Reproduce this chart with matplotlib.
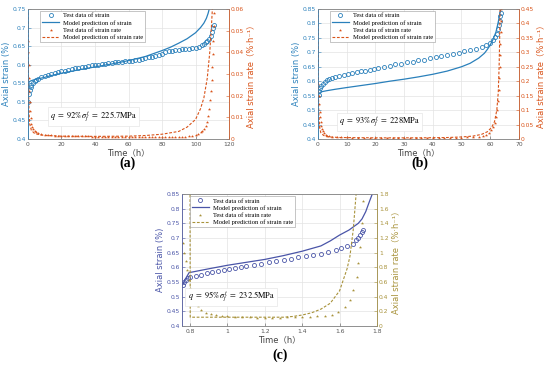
import matplotlib.pyplot as plt

plt.rcParams['font.family'] = ['DejaVu Sans', 'Noto Sans CJK SC']
plt.rcParams['mathtext.fontset'] = 'stix'

# ---------------- panel (a) ----------------
a_t_strain = [0.3, 0.6, 1, 1.5, 2, 3, 4, 5, 6, 8, 10, 12, 14, 16, 18, 20, 22, 24, 26, 28,
              30, 32, 34, 36, 38, 40, 42, 44, 46, 48, 50, 52, 54, 56, 58, 60, 62, 64, 66, 68,
              70, 72, 74, 76, 78, 80, 82, 84, 86, 88, 90, 92, 94, 96, 98, 100, 102, 104, 105,
              106, 107, 108, 109, 110, 110.5, 111]
a_strain = [0.50, 0.52, 0.532, 0.54, 0.546, 0.552, 0.556, 0.559, 0.562, 0.566, 0.569, 0.572,
            0.575, 0.578, 0.580, 0.582, 0.584, 0.586, 0.588, 0.590, 0.592, 0.593, 0.595, 0.596,
            0.598, 0.599, 0.600, 0.601, 0.603, 0.604, 0.605, 0.606, 0.607, 0.608, 0.609, 0.610,
            0.611, 0.612, 0.614, 0.616, 0.618, 0.620, 0.622, 0.624, 0.627, 0.630, 0.633, 0.636,
            0.638, 0.639, 0.640, 0.641, 0.642, 0.643, 0.644, 0.646, 0.649, 0.653, 0.656, 0.660,
            0.665, 0.670, 0.677, 0.688, 0.698, 0.708]
a_t_model = [0, 0.05, 0.2, 0.5, 1, 2, 4, 7, 10, 15, 20, 30, 40, 50, 60, 70, 80, 85, 90, 95,
             100, 103, 105, 106.5, 107.5, 108.2]
a_model = [0.40, 0.54, 0.548, 0.552, 0.555, 0.557, 0.560, 0.563, 0.566, 0.572, 0.577, 0.586,
           0.594, 0.602, 0.611, 0.622, 0.638, 0.647, 0.658, 0.670, 0.686, 0.700, 0.712, 0.725,
           0.738, 0.75]
a_t_rate = [0.15, 0.3, 0.45, 0.6, 0.8, 1.0, 1.3, 1.6, 2.0, 2.5, 3, 4, 5, 6, 8, 10, 12, 14, 16,
            18, 20, 22, 24, 26, 28, 30, 32, 34, 36, 38, 40, 42, 44, 46, 48, 50, 52, 54, 56, 58,
            60, 62, 64, 66, 68, 70, 72, 74, 76, 78, 80, 82, 84, 86, 88, 90, 92, 94, 96, 98, 100,
            101.5, 103, 104, 105, 106, 107, 107.7, 108.3, 108.8, 109.2, 109.6, 110, 110.3,
            110.6, 110.9, 111.1, 111.3]
a_rate = [0.045, 0.040, 0.034, 0.028, 0.022, 0.017, 0.013, 0.0095, 0.007, 0.0055, 0.0045,
          0.0035, 0.003, 0.0026, 0.0022, 0.002, 0.0018, 0.0017, 0.0016, 0.0015, 0.0014, 0.0014,
          0.0013, 0.0013, 0.0013, 0.0012, 0.0012, 0.0012, 0.0012, 0.0011, 0.0011, 0.0011,
          0.0011, 0.0011, 0.0011, 0.0011, 0.0010, 0.0010, 0.0010, 0.0010, 0.0010, 0.0010,
          0.0010, 0.0010, 0.0010, 0.0010, 0.0010, 0.0010, 0.0010, 0.0010, 0.0010, 0.0010,
          0.0010, 0.0011, 0.0011, 0.0011, 0.0011, 0.0011, 0.0012, 0.0014, 0.0018, 0.0022,
          0.003, 0.0037, 0.0047, 0.006, 0.008, 0.0105, 0.014, 0.018, 0.022, 0.027, 0.033,
          0.039, 0.045, 0.052, 0.058, 0.062]
a_t_rate_model = [0, 0.1, 0.3, 0.6, 1, 2, 4, 8, 20, 40, 60, 70, 80, 90, 95, 100, 103, 105,
                  107, 108.5, 109.5, 110.2]
a_rate_model = [0.065, 0.045, 0.025, 0.012, 0.007, 0.004, 0.0025, 0.0018, 0.0013, 0.0012,
                0.0013, 0.0016, 0.0022, 0.0035, 0.0055, 0.009, 0.014, 0.019, 0.028, 0.04,
                0.052, 0.062]

# ---------------- panel (b) ----------------
b_t_strain = [0.3, 0.5, 0.8, 1.2, 1.7, 2.3, 3, 4, 5, 6, 7.5, 9, 10.5, 12, 13.5, 15, 16.5, 18,
              19.5, 21, 23, 25, 27, 29, 31, 33, 35, 37, 39, 41, 43, 45, 47, 49, 51, 53, 55, 57,
              58.5, 60, 61, 61.8, 62.4, 62.8, 63.1, 63.3, 63.5, 63.6]
b_strain = [0.553, 0.565, 0.575, 0.585, 0.592, 0.598, 0.603, 0.608, 0.612, 0.616, 0.619, 0.622,
            0.625, 0.628, 0.631, 0.634, 0.637, 0.640, 0.643, 0.646, 0.650, 0.654, 0.658, 0.661,
            0.665, 0.668, 0.672, 0.675, 0.679, 0.683, 0.687, 0.691, 0.695, 0.699, 0.703, 0.707,
            0.712, 0.718, 0.724, 0.733, 0.742, 0.752, 0.765, 0.78, 0.795, 0.81, 0.825, 0.835]
b_t_model = [0, 0.05, 0.3, 1, 3, 6, 10, 15, 20, 25, 30, 35, 40, 45, 50, 53, 56, 58, 59, 60, 61,
             62, 62.7, 63.3, 63.7]
b_model = [0.40, 0.54, 0.556, 0.563, 0.567, 0.572, 0.578, 0.585, 0.592, 0.600, 0.607, 0.615,
           0.624, 0.635, 0.650, 0.662, 0.680, 0.697, 0.71, 0.725, 0.745, 0.77, 0.80, 0.83, 0.85]
b_t_rate = [0.2, 0.35, 0.5, 0.65, 0.8, 1.0, 1.2, 1.5, 1.8, 2.2, 2.7, 3.3, 4, 5, 6.5, 8, 10, 12,
            14, 16, 18, 20, 22, 24, 26, 28, 30, 32, 34, 36, 38, 40, 42, 44, 46, 48, 50, 52, 54,
            56, 57.5, 58.5, 59.5, 60.3, 61, 61.6, 62.1, 62.5, 62.8, 63, 63.15, 63.3, 63.4, 63.5,
            63.6, 63.7, 63.8]
b_rate = [0.19, 0.15, 0.12, 0.095, 0.075, 0.058, 0.045, 0.035, 0.027, 0.02, 0.015, 0.012, 0.01,
          0.008, 0.007, 0.006, 0.0055, 0.005, 0.005, 0.005, 0.005, 0.005, 0.005, 0.005, 0.005,
          0.005, 0.005, 0.005, 0.005, 0.005, 0.005, 0.005, 0.005, 0.005, 0.005, 0.005, 0.005,
          0.0055, 0.006, 0.008, 0.011, 0.015, 0.021, 0.03, 0.04, 0.055, 0.075, 0.10, 0.13,
          0.17, 0.21, 0.25, 0.29, 0.33, 0.37, 0.41, 0.45]
b_t_rate_model = [0.05, 0.15, 0.3, 0.6, 1, 2, 4, 8, 20, 35, 45, 50, 54, 57, 59, 60.5, 61.5,
                  62.3, 62.8, 63.1, 63.3, 63.45]
b_rate_model = [0.46, 0.2, 0.09, 0.04, 0.022, 0.012, 0.007, 0.005, 0.004, 0.004, 0.005, 0.007,
                0.01, 0.016, 0.025, 0.04, 0.06, 0.10, 0.16, 0.25, 0.35, 0.46]

# ---------------- panel (c) ----------------
c_t_strain = [0.76, 0.77, 0.78, 0.79, 0.80, 0.83, 0.86, 0.89, 0.92, 0.95, 0.98, 1.01, 1.04,
              1.07, 1.10, 1.14, 1.18, 1.22, 1.26, 1.30, 1.34, 1.38, 1.42, 1.46, 1.50, 1.54,
              1.58, 1.61, 1.64, 1.67, 1.69, 1.70, 1.71, 1.72, 1.725]
c_strain = [0.54, 0.55, 0.557, 0.562, 0.566, 0.571, 0.575, 0.579, 0.583, 0.587, 0.591, 0.595,
            0.598, 0.601, 0.604, 0.608, 0.612, 0.617, 0.622, 0.626, 0.630, 0.635, 0.639, 0.643,
            0.647, 0.652, 0.659, 0.665, 0.673, 0.681, 0.692, 0.70, 0.71, 0.72, 0.727]
c_t_model = [0.755, 0.775, 0.795, 0.82, 0.9, 1.0, 1.1, 1.2, 1.3, 1.4, 1.5, 1.55, 1.6, 1.65,
             1.7, 1.72, 1.74, 1.76, 1.775]
c_model = [0.535, 0.56, 0.582, 0.585, 0.595, 0.607, 0.617, 0.627, 0.640, 0.655, 0.673, 0.690,
           0.71, 0.727, 0.75, 0.765, 0.79, 0.825, 0.85]
c_t_rate = [0.76, 0.768, 0.776, 0.784, 0.792, 0.80, 0.81, 0.825, 0.84, 0.86, 0.885, 0.91, 0.94,
            0.97, 1.0, 1.04, 1.08, 1.12, 1.16, 1.2, 1.24, 1.28, 1.32, 1.36, 1.4, 1.44, 1.48,
            1.52, 1.557, 1.593, 1.628, 1.655, 1.673, 1.691, 1.70, 1.709, 1.718, 1.727]
c_rate = [1.13, 1.0, 0.88, 0.76, 0.63, 0.52, 0.42, 0.33, 0.27, 0.22, 0.18, 0.16, 0.15, 0.14,
          0.13, 0.125, 0.12, 0.12, 0.115, 0.115, 0.115, 0.115, 0.12, 0.12, 0.12, 0.125, 0.13,
          0.14, 0.15, 0.195, 0.26, 0.355, 0.49, 0.67, 0.855, 1.08, 1.40, 1.70]
c_t_rate_model = [0.80, 0.801, 0.82, 0.9, 1.0, 1.1, 1.2, 1.3, 1.35, 1.4, 1.45, 1.5, 1.55, 1.6,
                  1.62, 1.64, 1.655, 1.673, 1.69]
c_rate_model = [1.85, 0.12, 0.12, 0.12, 0.12, 0.12, 0.12, 0.12, 0.13, 0.15, 0.18, 0.23, 0.31,
                0.48, 0.63, 0.78, 0.945, 1.31, 1.85]


def panel(fig, rect, tag, tag_xy, c1, c2, strain_t, strain, model_t, model, rate_t, rate,
          rmod_t, rmod, xlim, xticks, ylim1, yticks1, ylim2, yticks2, note, note_xy, leg_x):
    ax = fig.add_axes(rect)
    ax2 = ax.twinx()

    l1, = ax.plot(strain_t, strain, 'o', mfc='none', mec=c1, ms=2.9, mew=0.6,
                  label='Test data of strain')
    l2, = ax.plot(model_t, model, '-', color=c1, lw=0.9, label='Model prediction of strain')
    l3, = ax2.plot(rate_t, rate, '*', color=c2, ms=2.4, mew=0, ls='none',
                   label='Test data of strain rate')
    l4, = ax2.plot(rmod_t, rmod, '--', color=c2, lw=0.8, dashes=(2.5, 1.5),
                   label='Model prediction of strain rate')

    ax.set_xlim(xlim)
    ax.set_ylim(ylim1)
    ax2.set_ylim(ylim2)
    ax.set_xticks(xticks)
    ax.set_xticklabels([f'{v:g}' for v in xticks])
    ax.set_yticks(yticks1)
    ax.set_yticklabels([f'{v:g}' for v in yticks1])
    ax2.set_yticks(yticks2)
    ax2.set_yticklabels([f'{v:g}' for v in yticks2])

    ax.grid(True, color='#e3e3e3', lw=0.5)
    ax.set_axisbelow(True)

    ax.tick_params(axis='x', direction='in', length=2, width=0.4, labelsize=4.3, pad=2,
                   colors='#555555')
    ax.tick_params(axis='y', direction='in', length=2, width=0.4, labelsize=4.3, pad=1.5,
                   colors=c1)
    ax2.tick_params(axis='y', direction='in', length=2, width=0.4, labelsize=4.3, pad=1.5,
                    colors=c2)
    for a in (ax, ax2):
        for s in a.spines.values():
            s.set_linewidth(0.5)
            s.set_color('#888888')
    ax2.spines['left'].set_color(c1)
    ax2.spines['right'].set_color(c2)

    ax.set_xlabel('Time（h）', fontsize=6, color='#444444', labelpad=1)
    ax.set_ylabel('Axial strain (%)', fontsize=6, color=c1, labelpad=1)
    ax2.set_ylabel('Axial strain rate（%·h⁻¹）', fontsize=6, color=c2, labelpad=1.5)

    ax2.text(note_xy[0], note_xy[1], note, transform=ax.transData, fontsize=6,
             ha='center', va='center', zorder=5,
             bbox=dict(facecolor='white', edgecolor='#e0e0e0', lw=0.4, pad=1.5))

    leg = ax2.legend(handles=[l1, l2, l3, l4], loc='upper left', bbox_to_anchor=(leg_x, 0.985),
                     labelspacing=0.25, handlelength=2.6, handletextpad=0.6,
                     borderpad=0.3, borderaxespad=0, fancybox=False, framealpha=1,
                     edgecolor='#999999', prop={'family': 'Liberation Serif', 'size': 4.7})
    leg.get_frame().set_linewidth(0.4)

    fig.text(tag_xy[0], tag_xy[1], tag, fontsize=10, fontweight='bold',
             family='Liberation Serif', ha='center', va='center')
    return ax, ax2


fig = plt.figure(figsize=(5.5, 3.67), dpi=100)

blue_ab = '#2a80bb'
orange = '#D95319'
blue_c = '#4a55a8'
gold = '#a8923a'

panel(fig, [0.0509, 0.6213, 0.3655, 0.3542], '(a)', (0.2327, 0.556), blue_ab, orange,
      a_t_strain, a_strain, a_t_model, a_model, a_t_rate, a_rate, a_t_rate_model, a_rate_model,
      (0, 120), [0, 20, 40, 60, 80, 100, 120],
      (0.4, 0.75), [0.4, 0.45, 0.5, 0.55, 0.6, 0.65, 0.7, 0.75],
      (0, 0.06), [0, 0.01, 0.02, 0.03, 0.04, 0.05, 0.06],
      r'$q\ =\ 92\%\sigma_f^{\,t}\ =\ 225.7\mathrm{MPa}$', (39, 0.461), 0.06)

panel(fig, [0.578, 0.6213, 0.3655, 0.3542], '(b)', (0.7636, 0.556), blue_ab, orange,
      b_t_strain, b_strain, b_t_model, b_model, b_t_rate, b_rate, b_t_rate_model, b_rate_model,
      (0, 70), [0, 10, 20, 30, 40, 50, 60, 70],
      (0.4, 0.85), [0.4, 0.45, 0.5, 0.55, 0.6, 0.65, 0.7, 0.75, 0.8, 0.85],
      (0, 0.45), [0, 0.05, 0.1, 0.15, 0.2, 0.25, 0.3, 0.35, 0.4, 0.45],
      r'$q\ =\ 93\%\sigma_f^{\,t}\ =\ 228\mathrm{MPa}$', (21.5, 0.459), 0.06)

panel(fig, [0.3309, 0.1117, 0.3545, 0.3597], '(c)', (0.509, 0.0327), blue_c, gold,
      c_t_strain, c_strain, c_t_model, c_model, c_t_rate, c_rate, c_t_rate_model, c_rate_model,
      (0.757, 1.8), [0.8, 1.0, 1.2, 1.4, 1.6, 1.8],
      (0.4, 0.85), [0.4, 0.45, 0.5, 0.55, 0.6, 0.65, 0.7, 0.75, 0.8, 0.85],
      (0, 1.8), [0, 0.2, 0.4, 0.6, 0.8, 1.0, 1.2, 1.4, 1.6, 1.8],
      r'$q\ =\ 95\%\sigma_f^{\,t}\ =\ 232.5\mathrm{MPa}$', (1.02, 0.499), 0.04)

fig.savefig('out.png', dpi=100)
